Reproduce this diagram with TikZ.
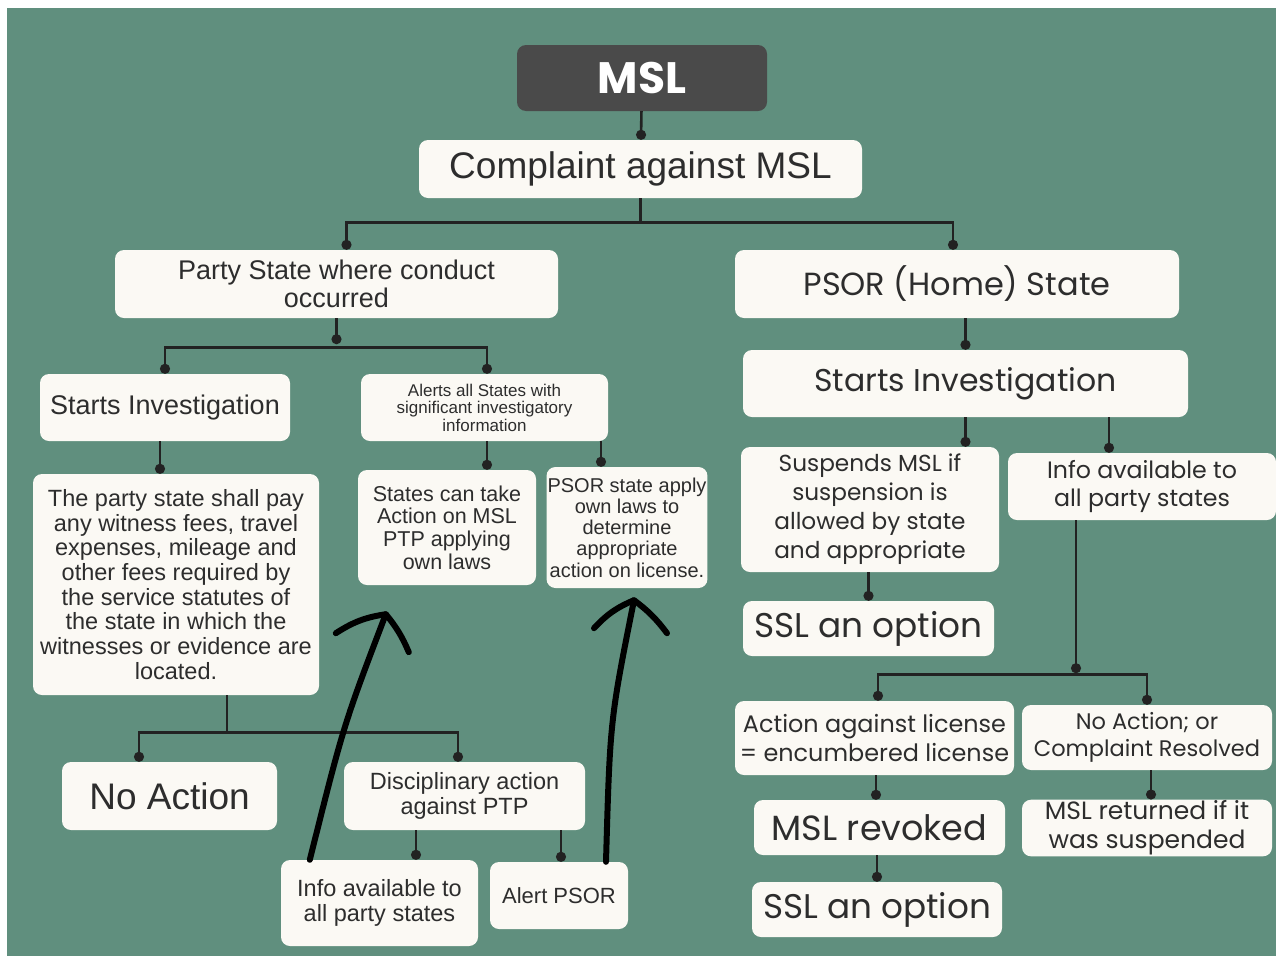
\documentclass[tikz,border=0pt]{standalone}
\usepackage{fontspec}
\setmainfont{Liberation Sans}
\newfontfamily\geofont{Poppins}
\usetikzlibrary{arrows.meta,calc}

\definecolor{sage}{RGB}{96,143,126}
\definecolor{cream}{RGB}{251,249,244}
\definecolor{slate}{RGB}{74,74,74}
\definecolor{ink}{RGB}{34,34,34}
\definecolor{txt}{RGB}{45,45,45}

\begin{document}
\begin{tikzpicture}[x=1pt,y=-1pt,
	card/.style={fill=cream,rounded corners=9pt,align=center,inner sep=1pt,text=txt},
	wire/.style={draw=ink,line width=2.6pt},
	con/.style={wire,-{Circle[length=10pt,width=10pt]}},
	scrawl/.style={draw=black,line width=6pt,line cap=round,line join=round}]
		\fill[white] (0,0) rectangle (1276,956);
		\fill[sage] (7,8) rectangle (1276,956);
		\useasboundingbox (0,0) rectangle (1276,956);
		% top
		\node[card,fill=slate,text=white,minimum width=250pt,minimum height=66pt,font=\geofont\bfseries\fontsize{44}{48}\selectfont] (msl) at (642,78) {MSL};
		\node[card,minimum width=443pt,minimum height=58pt,font=\fontsize{37}{40}\selectfont] (cmpl) at (640.5,169) {Complaint against MSL};
		\node[card,minimum width=443pt,minimum height=68pt,font=\fontsize{27}{28}\selectfont] (party) at (336.5,284) {Party State where conduct\\occurred};
		\node[card,minimum width=444pt,minimum height=68pt,font=\geofont\fontsize{32}{34}\selectfont] (psor) at (957,284) {PSOR (Home) State};
		% left branch
		\node[card,minimum width=250pt,minimum height=67pt,font=\fontsize{27}{30}\selectfont] (startl) at (165,407.5) {Starts Investigation};
		\node[card,minimum width=247pt,minimum height=67pt,font=\fontsize{17}{17.5}\selectfont] (alerts) at (484.5,407.5) {Alerts all States with\\significant investigatory\\information};
		\node[card,minimum width=286pt,minimum height=221pt,font=\fontsize{23.5}{24.7}\selectfont] (fees) at (176,584.5) {The party state shall pay\\any witness fees, travel\\expenses, mileage and\\other fees required by\\the service statutes of\\the state in which the\\witnesses or evidence are\\located.};
		\node[card,minimum width=178pt,minimum height=115pt,font=\fontsize{21.5}{22.7}\selectfont] (stact) at (447,527.5) {States can take\\Action on MSL\\PTP applying\\own laws};
		\node[card,minimum width=160pt,minimum height=121pt,font=\fontsize{20}{21.2}\selectfont] (psorlaw) at (627,527.5) {PSOR state apply\\own laws to\\determine\\appropriate\\action on license.};
		\node[card,minimum width=215pt,minimum height=68pt,font=\fontsize{37}{40}\selectfont] (noact) at (169.5,796) {No Action};
		\node[card,minimum width=241pt,minimum height=68pt,font=\fontsize{23.5}{24.5}\selectfont] (discip) at (464.5,796) {Disciplinary action\\against PTP};
		\node[card,minimum width=197pt,minimum height=86pt,font=\fontsize{23.5}{25}\selectfont] (infol) at (379.5,903) {Info available to\\all party states};
		\node[card,minimum width=138pt,minimum height=67pt,font=\fontsize{22}{25}\selectfont] (alert) at (559,895.5) {Alert PSOR};
		% right branch
		\node[card,minimum width=445pt,minimum height=67pt,font=\geofont\fontsize{31.5}{34}\selectfont] (startr) at (965.5,383.5) {Starts Investigation};
		\node[card,minimum width=258pt,minimum height=125pt,font=\geofont\fontsize{23.2}{29}\selectfont] (suspend) at (870,509.5) {Suspends MSL if\\suspension is\\allowed by state\\and appropriate};
		\node[card,minimum width=268pt,minimum height=67pt,font=\geofont\fontsize{23.7}{28}\selectfont] (infor) at (1142,486.5) {Info available to\\all party states};
		\node[card,minimum width=251pt,minimum height=55pt,font=\geofont\fontsize{34.3}{36}\selectfont] (ssla) at (868.5,628.5) {SSL an option};
		\node[card,minimum width=279pt,minimum height=74pt,font=\geofont\fontsize{23.9}{29}\selectfont] (actlic) at (874.5,738) {Action against license\\= encumbered license};
		\node[card,minimum width=250pt,minimum height=65pt,font=\geofont\fontsize{22.5}{27}\selectfont] (noactr) at (1147,737.5) {No Action; or\\Complaint Resolved};
		\node[card,minimum width=251pt,minimum height=55pt,font=\geofont\fontsize{35}{37}\selectfont] (revoked) at (879.5,827.5) {MSL revoked};
		\node[card,minimum width=250pt,minimum height=56pt,font=\geofont\fontsize{25}{29}\selectfont] (returned) at (1147,828) {MSL returned if it\\was suspended};
		\node[card,minimum width=250pt,minimum height=55pt,font=\geofont\fontsize{34.2}{36}\selectfont] (sslb) at (877,909.5) {SSL an option};
		% connectors
		\draw[con] (msl) -- (cmpl);
		\draw[con] (cmpl.south) -- ++(0,24) -| ([xshift=10pt]party.north);
		\draw[con] (cmpl.south) -- ++(0,24) -| ([xshift=-4pt]psor.north);
		\draw[con] (party.south) -- ++(0,26);
		\path (party.south) ++(0,29) coordinate (pbus);
		\draw[con] (pbus) -| (startl.north);
		\draw[con] (pbus) -| ([xshift=2.5pt]alerts.north);
		\draw[con] (startr.north |- psor.south) -- (startr.north);
		\draw[con] ([xshift=-5pt]startl.south) -- ([xshift=-5pt]startl.south |- fees.north);
		\draw[con] ([xshift=2.5pt]alerts.south) -- ([xshift=2.5pt]alerts.south |- stact.north);
		\draw[con] ([xshift=116.5pt]alerts.south) -- ([xshift=116.5pt]alerts.south |- psorlaw.north);
		\draw[con] (startr.south) -- (startr.south |- suspend.north);
		\draw[con] ([xshift=143.5pt]startr.south) -- ([xshift=143.5pt]startr.south |- infor.north);
		\draw[con] (ssla.north |- suspend.south) -- (ssla.north);
		\draw[con] ([xshift=-66pt]infor.south) -- ++(0,153);
		\path ([xshift=-66pt]infor.south) ++(0,154) coordinate (ibus);
		\draw[con] (ibus) -| ([xshift=3.5pt]actlic.north);
		\draw[con] (ibus) -| (noactr.north);
		\draw[con] ([xshift=1.5pt]actlic.south) -- ([xshift=1.5pt]actlic.south |- revoked.north);
		\draw[con] (sslb.north |- revoked.south) -- (sslb.north);
		\draw[con] ([xshift=4pt]noactr.south) -- ([xshift=4pt]noactr.south |- returned.north);
		\draw[wire] ([xshift=51pt]fees.south) -- ++(0,37) coordinate (fbus);
		\draw[con] (fbus) -| ([xshift=-30.5pt]noact.north);
		\draw[con] (fbus) -| ([xshift=-6.5pt]discip.north);
		\draw[con] ([xshift=-48.5pt]discip.south) -- ([xshift=-48.5pt]discip.south |- infol.north);
		\draw[con] ([xshift=2pt]alert.north |- discip.south) -- ([xshift=2pt]alert.north);
		% hand drawn arrows
		\coordinate (tipa) at ($(stact.south west)+(28,29)$);
		\coordinate (tipb) at ($(psorlaw.south)+(7,12)$);
		\draw[scrawl] ([xshift=29pt]infol.north west) .. controls ($(tipa)+(-42,110)$) .. (tipa);
		\draw[scrawl] ($(tipa)+(-50,19)$) to[bend left=12] (tipa) to[bend left=8] ($(tipa)+(23,38)$);
		\draw[scrawl] ([xshift=47pt]alert.north) .. controls ($(tipb)+(-24,120)$) .. (tipb);
		\draw[scrawl] ($(tipb)+(-40,28)$) to[bend left=12] (tipb) to[bend left=8] ($(tipb)+(33,33)$);
\end{tikzpicture}
\end{document}
